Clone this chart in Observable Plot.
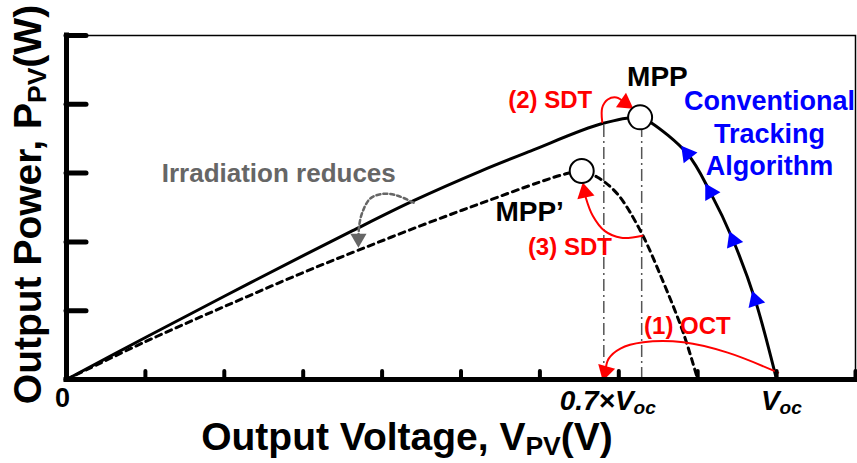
<!DOCTYPE html>
<html><head><meta charset="utf-8">
<script src="https://cdn.jsdelivr.net/npm/d3@7"></script>
<script src="https://cdn.jsdelivr.net/npm/@observablehq/plot@0.6"></script>
<style>body{margin:0;background:#fff}svg{display:block}</style>
</head><body><div id="chart"></div>
<script>
// ---- data (axis units: voltage 0..10, power 0..5) ----
const xTicks = [0,1,2,3,4,5,6,7,8,9,10];
const yTicks = [0,1,2,3,4,5];
const xTickLabelPos = [6.86, 9.06];
const xTickLabels = ["0.7×V_{oc}", "V_{oc}"];
const zeroLabel = ["0"];

// P-V curve, full irradiation (solid)
const voltage = [0, 1, 2, 3, 3.62, 4.40, 5.25, 5.88, 6.79, 7.27, 7.40, 7.87, 8.16, 8.45, 8.73, 9];
const power   = [0, 0.61, 1.21, 1.80, 2.16, 2.60, 3.03, 3.32, 3.72, 3.81, 3.74, 3.28, 2.72, 2.02, 1.15, 0];
// P-V curve, reduced irradiation (dashed)
const voltageLow = [0, 1, 2, 2.97, 3.70, 4.50, 5.25, 6.00, 6.30, 6.53, 6.73, 6.98, 7.27, 7.57, 7.82, 8];
const powerLow   = [0, 0.55, 1.06, 1.54, 1.88, 2.24, 2.56, 2.87, 2.98, 3.03, 2.94, 2.70, 2.17, 1.40, 0.67, 0];

// maximum power points
const mppName = ["MPP", "MPP'"];
const mppV = [7.27, 6.53];
const mppP = [3.81, 3.03];

// vertical guide lines (0.7×Voc and V_MPP)
const guideV = [6.81, 7.29];
const guideTop = [3.72, 3.63];

// conventional tracking direction markers
const trackV = [7.87, 8.16, 8.45, 8.73];
const trackP = [3.28, 2.72, 2.02, 1.15];
const trackAngle = [-38, -30, -22, -18];

// annotation arrows
const arrowOCT_V = [9.02, 8.38, 7.82, 7.31, 7.02, 6.87, 6.83];
const arrowOCT_P = [0.10, 0.39, 0.54, 0.54, 0.45, 0.30, 0.12];
const arrowSDT2_V = [6.79, 6.79, 6.86, 6.97, 7.08];
const arrowSDT2_P = [3.74, 3.95, 4.07, 4.10, 4.02];
const arrowSDT3_V = [7.30, 7.03, 6.82, 6.67, 6.58];
const arrowSDT3_P = [2.09, 2.06, 2.16, 2.38, 2.65];
const arrowIrr_V = [4.40, 4.20, 4.02, 3.85, 3.75, 3.71, 3.70];
const arrowIrr_P = [2.57, 2.67, 2.70, 2.63, 2.43, 2.24, 2.05];
const redHeadV = [6.83, 7.08, 6.57];
const redHeadP = [0.12, 4.02, 2.72];
const redHeadAngle = [195, 125, -12];
const grayHeadV = [3.70];
const grayHeadP = [2.05];

// annotation labels
const redLabels = ["(1) OCT", "(2) SDT", "(3) SDT"];
const redLabelV = [7.87, 6.13, 6.38];
const redLabelP = [0.78, 4.06, 1.92];
const blueLabels = ["Conventional", "Tracking", "Algorithm"];
const blueLabelP = [4.04, 3.56, 3.10];
const blueLabelV = 8.91;
const mppLabelV = [7.49, 5.87];
const mppLabelP = [4.40, 2.43];
const irrLabel = ["Irradiation reduces"];
const irrLabelV = [2.69];
const irrLabelP = [2.99];
const xLabel = "Output Voltage, V_{PV}(V)";
const yLabel = "Output Power, P_{PV}(W)";

// ---- build tables ----
const zip = (xs, ys) => xs.map((x, i) => ({x, y: ys[i]}));
const solid = zip(voltage, power);
const dashed = zip(voltageLow, powerLow);
const mpp = mppV.map((x, i) => ({x, y: mppP[i], name: mppName[i]}));
const guides = guideV.map((x, i) => ({x, top: guideTop[i]}));
const track = trackV.map((x, i) => ({x, y: trackP[i], a: trackAngle[i]}));
const redHeads = redHeadV.map((x, i) => ({x, y: redHeadP[i], a: redHeadAngle[i]}));
const grayHeads = zip(grayHeadV, grayHeadP);
const FONT = "'Liberation Sans', Arial, Helvetica, sans-serif";

const chart = Plot.plot({
  width: 857, height: 463,
  marginLeft: 66, marginRight: 2, marginTop: 35, marginBottom: 84,
  x: {domain: [0, 10], label: null},
  y: {domain: [0, 5], label: null},
  style: {fontFamily: FONT, background: "#fff", overflow: "visible"},
  marks: [
    Plot.ruleX(guides, {x: "x", y1: 0, y2: "top", stroke: "#555", strokeWidth: 1.5, strokeDasharray: "12,4,2,4"}),
    Plot.frame({stroke: "#000", strokeWidth: 1.5}),
    Plot.line(solid, {x: "x", y: "y", curve: "catmull-rom", stroke: "#000", strokeWidth: 3}),
    Plot.line(dashed, {x: "x", y: "y", curve: "catmull-rom", stroke: "#000", strokeWidth: 3, strokeDasharray: "6,5"}),
    Plot.line(zip(arrowOCT_V, arrowOCT_P), {x: "x", y: "y", curve: "catmull-rom", stroke: "#f00", strokeWidth: 2}),
    Plot.line(zip(arrowSDT2_V, arrowSDT2_P), {x: "x", y: "y", curve: "catmull-rom", stroke: "#f00", strokeWidth: 2}),
    Plot.line(zip(arrowSDT3_V, arrowSDT3_P), {x: "x", y: "y", curve: "catmull-rom", stroke: "#f00", strokeWidth: 2}),
    Plot.line(zip(arrowIrr_V, arrowIrr_P), {x: "x", y: "y", curve: "catmull-rom", stroke: "#666", strokeWidth: 2.5, strokeDasharray: "4,3"}),
    Plot.dot(redHeads, {x: "x", y: "y", rotate: "a", symbol: "triangle", r: 6.5, fill: "#f00", stroke: "none"}),
    Plot.dot(grayHeads, {x: "x", y: "y", rotate: 180, symbol: "triangle", r: 6, fill: "#666", stroke: "none"}),
    Plot.dot(track, {x: "x", y: "y", rotate: "a", symbol: "triangle", r: 6.5, fill: "#00f", stroke: "none"}),
    Plot.dot(mpp, {x: "x", y: "y", r: 12, fill: "#fff", stroke: "#000", strokeWidth: 2}),
    Plot.ruleX([0], {stroke: "#000", strokeWidth: 5, strokeLinecap: "square"}),
    Plot.ruleY([0], {stroke: "#000", strokeWidth: 5, strokeLinecap: "square"}),
    Plot.axisY(yTicks, {anchor: "left", tickSize: 20, dx: 20, tickFormat: () => "", label: null, strokeWidth: 5, strokeLinecap: "round"}),
    Plot.axisX(xTicks, {anchor: "bottom", tickSize: 8, dy: -8, tickFormat: () => "", label: null, strokeWidth: 4, strokeLinecap: "round"}),
    Plot.text(zeroLabel, {x: 0, frameAnchor: "bottom", textAnchor: "middle", lineAnchor: "middle", dx: -4, dy: 19, text: d => d, fontSize: 27, fontWeight: "bold", fill: "#000"}),
    Plot.text(xTickLabels, {x: (d, i) => xTickLabelPos[i], frameAnchor: "bottom", textAnchor: "middle", lineAnchor: "middle", dy: 22, text: d => d, fontSize: 28, fontWeight: "bold", fontStyle: "italic", fill: "#000"}),
    Plot.text([xLabel], {frameAnchor: "bottom", textAnchor: "middle", lineAnchor: "middle", dx: -54, dy: 58, text: d => d, fontSize: 39, fontWeight: "bold", fill: "#000"}),
    Plot.text([yLabel], {frameAnchor: "left", textAnchor: "middle", lineAnchor: "middle", dx: -38, dy: -3, rotate: -90, text: d => d, fontSize: 39, fontWeight: "bold", fill: "#000"}),
    Plot.text(mppName, {x: (d, i) => mppLabelV[i], y: (d, i) => mppLabelP[i], text: d => d === "MPP'" ? "MPP’" : d, fontSize: 28, fontWeight: "bold", fill: "#000"}),
    Plot.text(redLabels, {x: (d, i) => redLabelV[i], y: (d, i) => redLabelP[i], text: d => d, fontSize: 24, fontWeight: "bold", fill: "#f00"}),
    Plot.text(blueLabels, {x: blueLabelV, y: (d, i) => blueLabelP[i], text: d => d, fontSize: 27, fontWeight: "bold", fill: "#00f"}),
    Plot.text(irrLabel, {x: (d, i) => irrLabelV[i], y: (d, i) => irrLabelP[i], text: d => d, fontSize: 26, fontWeight: "bold", fill: "#666"})
  ]
});

// subscript markup: "_{...}"
function richify(svg) {
  const ns = "http://www.w3.org/2000/svg";
  svg.querySelectorAll("text").forEach(t => {
    const s = t.textContent;
    if (!s.includes("_{")) return;
    while (t.firstChild) t.removeChild(t.firstChild);
    const re = /_\{([^}]*)\}/g;
    const parts = [];
    let last = 0, m;
    while ((m = re.exec(s))) { parts.push([s.slice(last, m.index), false]); parts.push([m[1], true]); last = re.lastIndex; }
    parts.push([s.slice(last), false]);
    let shifted = false;
    for (const [str, sub] of parts) {
      if (!str) continue;
      const ts = document.createElementNS(ns, "tspan");
      if (sub) { ts.setAttribute("font-size", "68%"); ts.setAttribute("dy", "0.18em"); shifted = true; }
      else if (shifted) { ts.setAttribute("dy", "-0.1224em"); shifted = false; }
      ts.textContent = str;
      t.appendChild(ts);
    }
  });
}
richify(chart);
document.getElementById("chart").appendChild(chart);
</script>
</body></html>
